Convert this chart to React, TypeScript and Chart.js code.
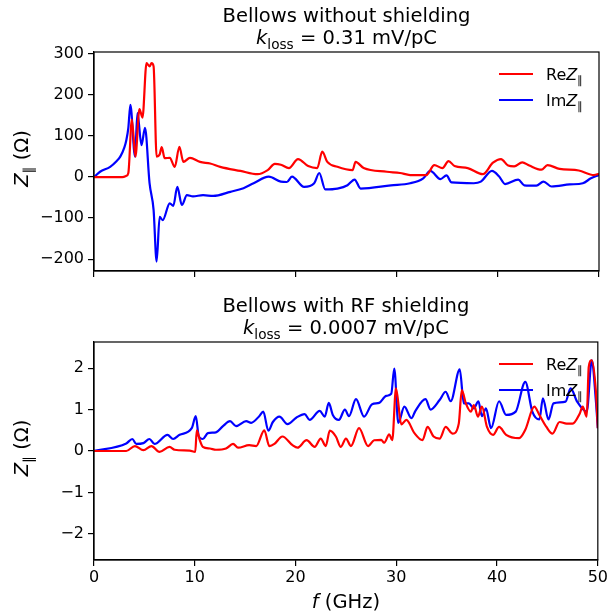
import React, { useEffect, useRef } from "react";
import { Chart, registerables } from "chart.js";
Chart.register(...registerables);

const FONT = '"DejaVu Sans", sans-serif';

// ---------- Top panel: bellows without shielding ----------
const reTopF = [0, 2.8, 3.2, 3.4, 3.75, 4.1, 4.5, 4.8, 5.2, 5.5, 5.7, 5.9, 6.2, 6.5, 6.7, 7.0, 7.5, 8.0, 8.45, 8.85, 9.5, 10.5, 11.5, 12.5, 14.5, 16.2, 17.2, 17.9, 18.5, 19.3, 20.2, 21.2, 22.1, 22.6, 23.1, 24.1, 25.6, 25.9, 26.7, 29.0, 30.3, 31.3, 32.9, 33.7, 34.5, 35.1, 35.7, 37.0, 38.5, 39.5, 40.3, 41.0, 41.6, 42.4, 43.1, 44.3, 44.9, 46.1, 48.0, 49.5, 50];
const reTopV = [0, 0, 3, 10, 140, 50, 166, 145, 278, 270, 278, 270, 50, 55, 73, 46, 47, 25, 74, 37, 47, 37, 33, 25, 15, 7, 17, 32, 30, 22, 44, 27, 22, 62, 37, 25, 17, 37, 22, 13, 10, 5, 5, 29, 22, 39, 27, 22, 7, 35, 44, 28, 26, 36, 28, 18, 29, 20, 16, 5, 8];
const imTopF = [0, 0.6, 1.6, 2.2, 2.6, 3.0, 3.2, 3.4, 3.6, 4.06, 4.3, 4.7, 5.05, 5.5, 5.9, 6.2, 6.5, 6.8, 7.5, 7.85, 8.25, 8.7, 9.2, 9.8, 10.8, 11.8, 13.5, 14.8, 15.8, 17.3, 18.5, 19.1, 19.6, 20.8, 21.8, 22.3, 22.9, 24.1, 25.1, 25.8, 26.4, 29.4, 31.3, 32.6, 33.3, 34.3, 34.9, 35.4, 37.6, 38.3, 39.4, 40.1, 40.7, 42.0, 42.6, 43.8, 44.5, 45.3, 47.1, 48.4, 49.2, 50];
const imTopV = [0, 13, 25, 38, 50, 72, 90, 120, 176, 50, 156, 78, 120, -15, -80, -206, -97, -105, -64, -70, -24, -68, -44, -47, -44, -46, -36, -27, -15, 1, -11, -12, 1, -24, -15, 10, -30, -28, -20, -6, -28, -20, -15, -3, 15, -5, 4, -13, -15, -11, 15, 2, -17, -6, -20, -21, -11, -23, -18, -15, -3, 5];

// ---------- Bottom panel: bellows with RF shielding ----------
const reBotF = [0, 3.2, 4.06, 4.9, 5.7, 6.5, 7.5, 8.0, 9.5, 10.05, 10.2, 10.5, 10.8, 11.5, 12.1, 13.1, 13.8, 14.3, 15.4, 16.1, 16.9, 17.4, 17.9, 18.7, 19.7, 20.2, 21.1, 21.9, 22.5, 23.0, 23.4, 24.0, 24.5, 25.0, 25.5, 26.3, 27.2, 27.8, 28.5, 28.8, 29.3, 29.6, 29.97, 30.5, 31.0, 31.8, 32.6, 33.1, 33.7, 34.3, 34.9, 35.6, 36.2, 36.5, 36.9, 37.4, 37.7, 38.1, 38.5, 39.0, 39.6, 40.2, 40.9, 42.2, 42.8, 43.7, 44.2, 44.9, 45.5, 46.2, 46.9, 47.5, 48.2, 48.5, 48.9, 49.1, 49.4, 49.8, 50];
const reBotV = [0, 0, 0.12, 0.02, 0.12, -0.02, 0.1, 0.03, 0.01, -0.02, 0.5, 0.26, 0.1, 0.06, 0.03, 0.06, 0.17, 0.08, 0.14, 0.12, 0.5, 0.12, 0.17, 0.35, 0.14, 0.08, 0.26, 0.1, 0.3, 0.12, 0.49, 0.35, 0.1, 0.3, 0.12, 0.55, 0.12, 0.26, 0.27, 0.2, 0.4, 0.26, 1.51, 0.64, 0.75, 0.43, 0.26, 0.58, 0.35, 0.3, 0.58, 0.42, 0.66, 1.47, 1.15, 0.95, 1.11, 0.83, 1.07, 0.58, 0.39, 0.58, 0.39, 0.31, 0.51, 1.07, 0.87, 0.58, 0.42, 0.7, 0.66, 0.66, 0.9, 1.07, 0.83, 2.03, 2.19, 1.47, 0.55];
const imBotF = [0, 3.2, 3.8, 4.2, 4.9, 5.5, 6.0, 7.3, 7.85, 8.5, 9.7, 10.1, 10.4, 10.8, 11.3, 12.1, 12.8, 13.5, 14.1, 15.1, 15.6, 16.4, 16.8, 17.3, 17.75, 18.4, 19.2, 20.1, 20.9, 21.4, 22.4, 22.9, 23.3, 23.7, 24.3, 24.9, 25.3, 26.0, 26.8, 27.6, 28.3, 29.0, 29.5, 29.8, 30.2, 30.8, 31.5, 31.9, 32.9, 33.4, 34.3, 34.9, 35.4, 36.3, 36.7, 37.2, 37.7, 38.15, 38.5, 38.9, 39.4, 40.2, 40.9, 41.85, 42.8, 43.5, 44.2, 44.55, 45.1, 45.6, 46.8, 47.3, 47.95, 48.9, 49.4, 49.8, 50];
const imBotV = [0, 0.18, 0.29, 0.17, 0.19, 0.29, 0.17, 0.39, 0.29, 0.39, 0.55, 0.84, 0.35, 0.29, 0.43, 0.45, 0.6, 0.72, 0.6, 0.72, 0.68, 0.84, 0.95, 0.49, 0.7, 0.83, 0.65, 0.81, 0.89, 0.75, 0.97, 0.83, 1.16, 0.87, 0.75, 1.0, 0.84, 1.25, 0.83, 1.13, 1.16, 1.33, 1.38, 1.99, 0.68, 1.07, 0.79, 0.97, 1.25, 1.0, 1.23, 1.43, 1.2, 1.97, 1.15, 1.15, 1.03, 1.2, 0.84, 1.03, 0.55, 1.2, 0.87, 0.95, 1.67, 0.95, 0.76, 1.27, 0.76, 1.15, 1.19, 1.51, 1.19, 0.95, 2.19, 1.23, 0.55];

// ---------- Axes ----------
const xTicks = [0, 10, 20, 30, 40, 50];
const topYTicks = [-200, -100, 0, 100, 200, 300];
const botYTicks = [-2, -1, 0, 1, 2];
const topTitle = "Bellows without shielding";
const topKloss = "0.31";
const botTitle = "Bellows with RF shielding";
const botKloss = "0.0007";

type Part = { t: string; it?: boolean; sub?: boolean };

function richWidth(ctx: CanvasRenderingContext2D, parts: Part[], size: number) {
  let w = 0;
  for (const p of parts) {
    ctx.font = `${p.it ? "italic " : ""}${p.sub ? size * 0.7 : size}px ${FONT}`;
    w += ctx.measureText(p.t).width;
  }
  return w;
}

function drawRich(ctx: CanvasRenderingContext2D, parts: Part[], x: number, y: number, size: number, align: "left" | "center") {
  const w = richWidth(ctx, parts, size);
  let cx = align === "center" ? x - w / 2 : x;
  ctx.textAlign = "left";
  ctx.textBaseline = "alphabetic";
  for (const p of parts) {
    ctx.font = `${p.it ? "italic " : ""}${p.sub ? size * 0.7 : size}px ${FONT}`;
    ctx.fillText(p.t, cx, y + (p.sub ? size * 0.24 : 0));
    cx += ctx.measureText(p.t).width;
  }
}

function decorPlugin(opts: { title: string; kloss: string; xLabel: boolean }) {
  return {
    id: "decor",
    afterDraw(chart: any) {
      const ctx: CanvasRenderingContext2D = chart.ctx;
      const a = chart.chartArea;
      ctx.save();
      // frame
      ctx.strokeStyle = "#000";
      ctx.lineWidth = 1.2;
      ctx.strokeRect(a.left, a.top, a.right - a.left, a.bottom - a.top);
      ctx.fillStyle = "#000";
      const cx = (a.left + a.right) / 2;
      const TS = 19.5;
      drawRich(ctx, [{ t: opts.title }], cx, a.top - 30, TS, "center");
      drawRich(ctx, [{ t: "k", it: true }, { t: "loss", sub: true }, { t: " = " + opts.kloss + " mV/pC" }], cx, a.top - 8, TS, "center");
      // y label
      ctx.save();
      ctx.translate(21, (a.top + a.bottom) / 2 - 3);
      ctx.rotate(-Math.PI / 2);
      const yl: Part[] = [{ t: "Z", it: true }, { t: "\u2225", sub: true }, { t: " (\u03A9)" }];
      drawRich(ctx, yl, 0, TS * 0.36, TS, "center");
      ctx.restore();
      // legend
      const LS = 16;
      const entries = [
        { c: "#ff0000", p: [{ t: "Re" }, { t: "Z", it: true }, { t: "\u2225", sub: true }] as Part[] },
        { c: "#0000ff", p: [{ t: "Im" }, { t: "Z", it: true }, { t: "\u2225", sub: true }] as Part[] },
      ];
      entries.forEach((e, i) => {
        const ly = a.top + 22 + i * 26;
        ctx.strokeStyle = e.c;
        ctx.lineWidth = 2.2;
        ctx.beginPath();
        ctx.moveTo(499, ly);
        ctx.lineTo(533, ly);
        ctx.stroke();
        ctx.fillStyle = "#000";
        drawRich(ctx, e.p, 546, ly + LS * 0.36, LS, "left");
      });
      if (opts.xLabel) {
        drawRich(ctx, [{ t: "f", it: true }, { t: " (GHz)" }], cx, a.bottom + 48, TS, "center");
      }
      ctx.restore();
    },
  };
}

const toXY = (f: number[], v: number[]) => f.map((x, i) => ({ x, y: v[i] }));

function buildConfig(p: {
  reF: number[]; reV: number[]; imF: number[]; imV: number[];
  yMin: number; yMax: number; yTicks: number[]; xLabels: boolean; xAxisH: number;
  title: string; kloss: string;
}): any {
  const gridOpts = { display: true, drawOnChartArea: false, drawTicks: true, tickLength: 6, color: "#000", lineWidth: 1.2 };
  const borderOpts = { display: true, color: "#000", width: 1.2 };
  const ds = (data: any, color: string) => ({
    data, borderColor: color, backgroundColor: color, borderWidth: 2.2, pointRadius: 0,
    cubicInterpolationMode: "monotone", fill: false,
  });
  return {
    type: "line",
    data: { datasets: [ds(toXY(p.reF, p.reV), "#ff0000"), ds(toXY(p.imF, p.imV), "#0000ff")] },
    options: {
      animation: false,
      responsive: false,
      devicePixelRatio: 1,
      layout: { padding: { left: 0, right: 11, top: 52, bottom: 0 } },
      plugins: { legend: { display: false }, tooltip: { enabled: false }, title: { display: false } },
      scales: {
        x: {
          type: "linear", min: 0, max: 50,
          afterBuildTicks: (s: any) => { s.ticks = xTicks.map((v) => ({ value: v })); },
          afterFit: (s: any) => { s.height = p.xAxisH; },
          grid: gridOpts, border: borderOpts,
          ticks: { display: p.xLabels, autoSkip: false, maxRotation: 0, color: "#000", padding: 2, font: { family: FONT, size: 16 } },
        },
        y: {
          type: "linear", min: p.yMin, max: p.yMax,
          afterBuildTicks: (s: any) => { s.ticks = p.yTicks.map((v) => ({ value: v })); },
          afterFit: (s: any) => { s.width = 94; },
          grid: gridOpts, border: borderOpts,
          ticks: {
            autoSkip: false, color: "#000", padding: 4, font: { family: FONT, size: 16 },
            callback: (v: number) => (v < 0 ? "\u2212" + Math.abs(v) : String(v)),
          },
        },
      },
    },
    plugins: [decorPlugin({ title: p.title, kloss: p.kloss, xLabel: p.xLabels })],
  };
}

export default function App() {
  const c1 = useRef<HTMLCanvasElement>(null);
  const c2 = useRef<HTMLCanvasElement>(null);
  useEffect(() => {
    const ch1 = new Chart(c1.current!, buildConfig({
      reF: reTopF, reV: reTopV, imF: imTopF, imV: imTopV,
      yMin: -229, yMax: 305, yTicks: topYTicks, xLabels: false, xAxisH: 19,
      title: topTitle, kloss: topKloss,
    }));
    const ch2 = new Chart(c2.current!, buildConfig({
      reF: reBotF, reV: reBotV, imF: imBotF, imV: imBotV,
      yMin: -2.63, yMax: 2.63, yTicks: botYTicks, xLabels: true, xAxisH: 54,
      title: botTitle, kloss: botKloss,
    }));
    return () => { ch1.destroy(); ch2.destroy(); };
  }, []);
  return (
    <div style={{ position: "absolute", left: 0, top: 0, width: 610, height: 614, background: "#fff" }}>
      <canvas ref={c1} width={610} height={290} style={{ position: "absolute", left: 0, top: 0, width: 610, height: 290 }} />
      <canvas ref={c2} width={610} height={324} style={{ position: "absolute", left: 0, top: 290, width: 610, height: 324 }} />
    </div>
  );
}
